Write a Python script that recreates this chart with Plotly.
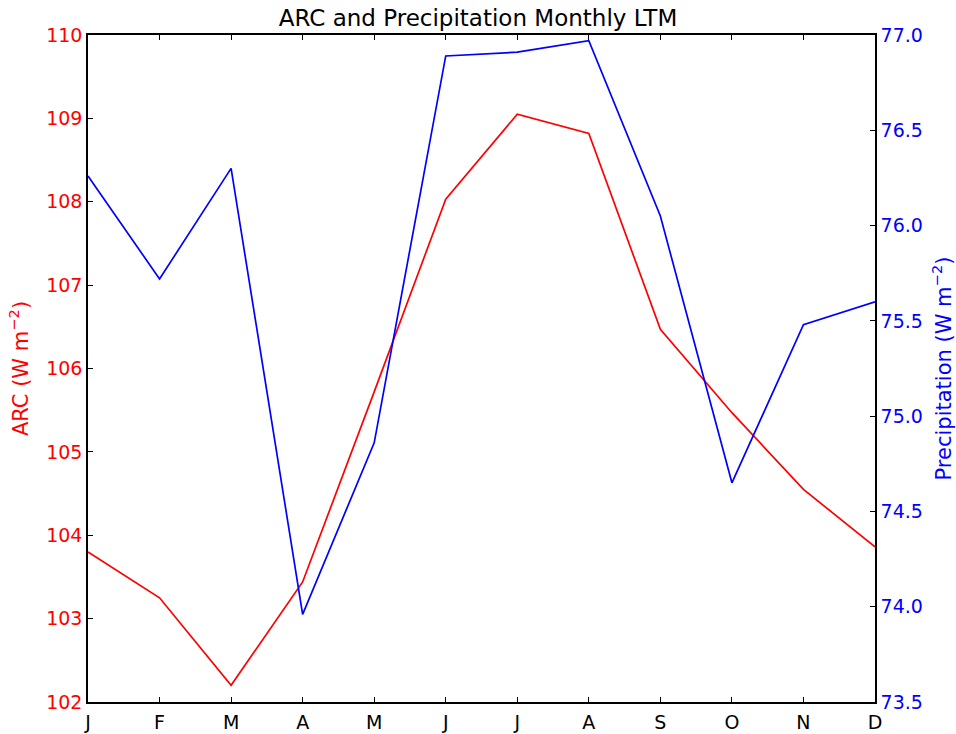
import plotly.graph_objects as go

months = ["J", "F", "M", "A", "M", "J", "J", "A", "S", "O", "N", "D"]
arc = [103.80, 103.25, 102.20, 103.44, 105.72, 108.03, 109.05, 108.82, 106.47, 105.47, 104.55, 103.86]
precip = [76.26, 75.72, 76.30, 73.96, 74.86, 76.89, 76.91, 76.97, 76.05, 74.65, 75.48, 75.60]

x = list(range(len(months)))
FONT = "DejaVu Sans"

fig = go.Figure()
fig.add_trace(go.Scatter(x=x, y=arc, mode="lines", line=dict(color="#ff0000", width=1.7),
                         name="ARC", yaxis="y"))
fig.add_trace(go.Scatter(x=x, y=precip, mode="lines", line=dict(color="#0000ff", width=1.7),
                         name="Precipitation", yaxis="y2"))

fig.update_layout(
    width=956, height=734,
    margin=dict(l=88, r=81, t=35, b=32),
    paper_bgcolor="white", plot_bgcolor="white",
    showlegend=False,
    font=dict(family=FONT, size=19, color="black"),
    title=dict(text="ARC and Precipitation Monthly LTM", x=0.5, xanchor="center",
               y=1 - 18 / 734, yanchor="middle", font=dict(size=23, color="black")),
    xaxis=dict(range=[0, 11], tickvals=x, ticktext=months, showgrid=False, zeroline=False,
               showline=True, linecolor="black", linewidth=1.5, mirror="ticks",
               ticks="inside", ticklen=5, tickcolor="black", tickwidth=1,
               ticklabelstandoff=2, automargin=False,
               tickfont=dict(size=19, color="black")),
    yaxis=dict(range=[102, 110], dtick=1, showgrid=False, zeroline=False,
               showline=True, linecolor="black", linewidth=1.5, automargin=False,
               ticks="inside", ticklen=5, tickcolor="black", tickwidth=1,
               tickfont=dict(size=19, color="#ff0000"),
               title=dict(text="ARC (W m<sup>−2</sup>)", font=dict(size=21, color="#ff0000"), standoff=12)),
    yaxis2=dict(range=[73.5, 77.0], dtick=0.5, tickformat=".1f", overlaying="y", side="right",
                showgrid=False, zeroline=False, automargin=False,
                showline=True, linecolor="black", linewidth=1.5,
                ticks="inside", ticklen=5, tickcolor="black", tickwidth=1,
                tickfont=dict(size=19, color="#0000ff"),
                title=dict(text="Precipitation (W m<sup>−2</sup>)", font=dict(size=21, color="#0000ff"), standoff=14)),
)

fig.write_html("out.html")
